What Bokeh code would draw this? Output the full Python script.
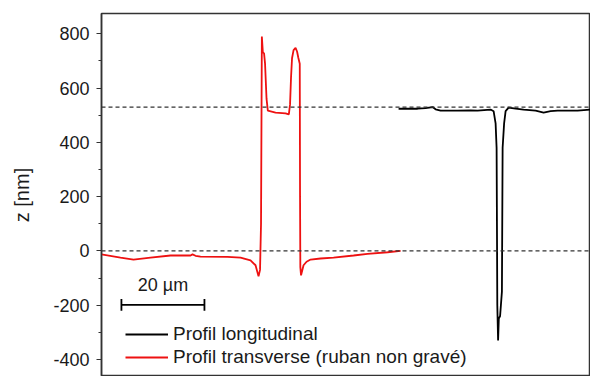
from bokeh.plotting import figure
from bokeh.models import (Range1d, Span, Legend, LegendItem,
                          SingleIntervalTicker, Label)
from bokeh.embed import file_html
from bokeh.resources import INLINE

# ---- data (x in µm, z in nm) ----
trans_x = [0.0, 4.58, 7.71, 11.81, 16.63, 21.45, 21.93, 22.65, 23.86, 30.36,
           33.49, 35.90, 37.11, 37.83, 38.19, 38.43, 38.63, 38.87, 39.16, 39.40,
           39.76, 40.07, 41.93, 44.34, 45.13, 45.42, 45.66, 45.90, 46.27, 46.75,
           47.11, 47.40, 47.76, 47.83, 47.90, 48.07, 48.67, 49.40, 50.36, 52.77,
           55.90, 60.72, 64.10, 68.92, 72.05]
trans_z = [-13, -25, -32, -25, -17, -17, -13, -18, -21, -22,
           -25, -35, -53, -94, -70, 100, 790, 732, 728, 690,
           560, 517, 510, 507, 503, 540, 640, 710, 740, 748,
           735, 713, 690, 200, -60, -90, -53, -40, -32, -28,
           -25, -17, -11, -5, 0]

long_x = [71.57, 74.46, 76.14, 78.07, 79.76, 80.48, 81.69, 85.78, 88.92, 90.60,
          93.73, 94.46, 94.94, 95.18, 95.35, 95.54, 95.71, 96.02, 96.46, 96.63,
          96.99, 97.35, 98.07, 99.76, 101.69, 104.58, 106.51, 108.19, 109.88,
          114.70, 117.83]
long_z = [524, 524, 524, 526, 530, 522, 517, 517, 518, 517,
          521, 515, 470, 380, -200, -330, -250, -240, -150, 380,
          470, 515, 528, 524, 521, 517, 510, 515, 517,
          517, 521]

ref_levels = [530, 0]
y_tick_labels = {-400: "-400", -200: "-200", 0: "0", 200: "200",
                 400: "400", 600: "600", 800: "800"}
scale_bar_len = 20  # µm
scale_bar_x0 = 4.8
scale_bar_z = -199
legend_labels = ["Profil longitudinal", "Profil transverse (ruban non gravé)"]

FONT = "Liberation Sans"
TXT = "#1a1a1a"
AX = "#333333"

p = figure(width=590, height=376, output_backend="svg", toolbar_location=None,
           x_range=Range1d(0, 117.8), y_range=Range1d(-463, 875),
           x_axis_location=None, y_axis_location="left",
           min_border_left=101, min_border_right=0, min_border_top=13,
           min_border_bottom=0)
p.grid.visible = False
p.outline_line_color = AX
p.outline_line_width = 1.5
p.background_fill_color = "white"
p.border_fill_color = "white"

yax = p.yaxis[0]
yax.ticker = SingleIntervalTicker(interval=200, num_minor_ticks=2)
yax.major_label_overrides = y_tick_labels
yax.axis_label = "z [nm]"
yax.axis_label_text_font = FONT
yax.axis_label_text_font_size = "20px"
yax.axis_label_text_font_style = "normal"
yax.axis_label_text_color = TXT
yax.axis_label_standoff = 17
yax.major_label_text_font = FONT
yax.major_label_text_font_size = "18px"
yax.major_label_text_color = TXT
yax.major_label_standoff = 7
yax.axis_line_color = AX
yax.axis_line_width = 1.5
yax.major_tick_line_color = AX
yax.minor_tick_line_color = AX
yax.major_tick_line_width = 1.2
yax.minor_tick_line_width = 1.2
yax.major_tick_out = 5
yax.major_tick_in = 0
yax.minor_tick_out = 3
yax.minor_tick_in = 0

for lvl in ref_levels:
    p.add_layout(Span(location=lvl, dimension="width", line_color="#333333",
                      line_width=1.2, line_dash="4 3"))

r_long = p.line(long_x, long_z, line_color="black", line_width=1.8)
r_trans = p.line(trans_x, trans_z, line_color="#ee1111", line_width=1.8)

# scale bar
x1 = scale_bar_x0 + scale_bar_len
p.segment(x0=[scale_bar_x0], y0=[scale_bar_z], x1=[x1], y1=[scale_bar_z],
          line_color="black", line_width=1.8)
p.segment(x0=[scale_bar_x0, x1], y0=[scale_bar_z - 22, scale_bar_z - 22],
          x1=[scale_bar_x0, x1], y1=[scale_bar_z + 22, scale_bar_z + 22],
          line_color="black", line_width=1.8)
p.add_layout(Label(x=scale_bar_x0 + scale_bar_len / 2, y=scale_bar_z + 38,
                   text="20 µm", text_align="center", text_baseline="bottom",
                   text_font=FONT, text_font_size="18px", text_color=TXT))

legend = Legend(items=[LegendItem(label=legend_labels[0], renderers=[r_long]),
                       LegendItem(label=legend_labels[1], renderers=[r_trans])],
                location=(24, 8), padding=0, margin=0, spacing=1,
                glyph_width=43, glyph_height=20, label_height=20,
                label_standoff=5, label_text_font=FONT,
                label_text_font_size="19px", label_text_color=TXT,
                background_fill_alpha=0, border_line_alpha=0)
p.add_layout(legend)

open("out.html", "w").write(file_html(p, INLINE))
